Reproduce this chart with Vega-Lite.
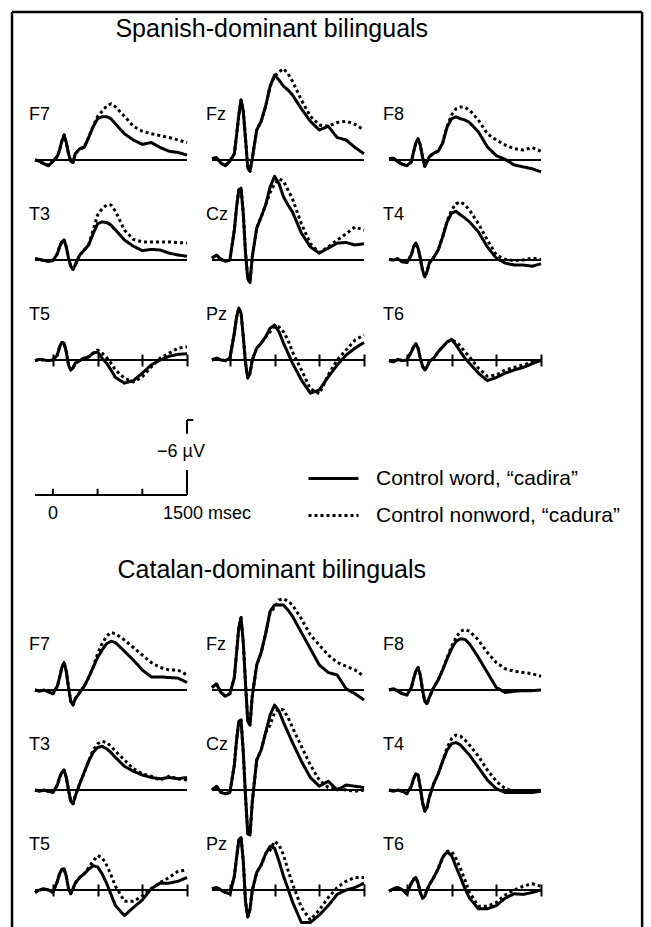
{
"$schema":"https://vega.github.io/schema/vega-lite/v6.json",
"padding":{"left":10,"top":10,"right":10,"bottom":1},
"background":"white",
"bounds":"flush",
"spacing":0,
"config":{"view":{"stroke":null},"font":"Liberation Sans","text":{"font":"Liberation Sans","color":"black"},"header":{"title":null,"labelExpr":"''","labelFontSize":1,"labelPadding":0,"labelColor":"transparent"},"headerFacet":{"title":null,"labelExpr":"''","labelFontSize":1,"labelPadding":0,"labelColor":"transparent"}},
"resolve":{"scale":{"x":"independent","y":"independent","strokeDash":"shared"},"legend":{"strokeDash":"shared"}},
"datasets":{
"S":[
{"e":"F7","t":-200,"w":0,"n":0},{"e":"F7","t":-150,"w":0.1,"n":0.1},{"e":"F7","t":-100,"w":0.3,"n":0.3},{"e":"F7","t":-50,"w":0.45,"n":0.45},{"e":"F7","t":0,"w":0.1,"n":0.1},{"e":"F7","t":50,"w":-0.3,"n":-0.3},{"e":"F7","t":75,"w":-0.8,"n":-0.8},{"e":"F7","t":100,"w":-1.5,"n":-1.5},{"e":"F7","t":125,"w":-2.0,"n":-2.0},{"e":"F7","t":150,"w":-1.4,"n":-1.4},{"e":"F7","t":175,"w":-0.5,"n":-0.5},{"e":"F7","t":200,"w":0.1,"n":0.1},{"e":"F7","t":225,"w":0.2,"n":0.2},{"e":"F7","t":250,"w":-0.5,"n":-0.5},{"e":"F7","t":300,"w":-0.9,"n":-0.9},{"e":"F7","t":350,"w":-1.0,"n":-1.0},{"e":"F7","t":400,"w":-1.8,"n":-1.8},{"e":"F7","t":450,"w":-2.65,"n":-2.7},{"e":"F7","t":500,"w":-3.3,"n":-3.5},{"e":"F7","t":550,"w":-3.47,"n":-3.9},{"e":"F7","t":600,"w":-3.47,"n":-4.3},{"e":"F7","t":650,"w":-3.3,"n":-4.5},{"e":"F7","t":700,"w":-2.9,"n":-4.25},{"e":"F7","t":800,"w":-2.1,"n":-3.5},{"e":"F7","t":900,"w":-1.6,"n":-2.7},{"e":"F7","t":1000,"w":-1.25,"n":-2.3},{"e":"F7","t":1100,"w":-1.4,"n":-2.1},{"e":"F7","t":1200,"w":-1.0,"n":-1.95},{"e":"F7","t":1300,"w":-0.7,"n":-1.8},{"e":"F7","t":1400,"w":-0.6,"n":-1.6},{"e":"F7","t":1500,"w":-0.4,"n":-1.4},
{"e":"Fz","t":-200,"w":-0.1,"n":-0.1},{"e":"Fz","t":-150,"w":-0.2,"n":-0.2},{"e":"Fz","t":-100,"w":0.25,"n":0.25},{"e":"Fz","t":-50,"w":0.45,"n":0.45},{"e":"Fz","t":0,"w":0.1,"n":0.1},{"e":"Fz","t":50,"w":-0.5,"n":-0.5},{"e":"Fz","t":75,"w":-2.0,"n":-2.0},{"e":"Fz","t":100,"w":-3.6,"n":-3.6},{"e":"Fz","t":125,"w":-4.8,"n":-4.8},{"e":"Fz","t":150,"w":-3.9,"n":-3.9},{"e":"Fz","t":175,"w":-1.7,"n":-1.7},{"e":"Fz","t":200,"w":0.65,"n":0.65},{"e":"Fz","t":225,"w":0.9,"n":0.9},{"e":"Fz","t":250,"w":-0.1,"n":-0.1},{"e":"Fz","t":300,"w":-2.4,"n":-2.4},{"e":"Fz","t":350,"w":-3.1,"n":-3.1},{"e":"Fz","t":400,"w":-4.3,"n":-4.3},{"e":"Fz","t":450,"w":-5.9,"n":-5.9},{"e":"Fz","t":500,"w":-6.8,"n":-6.7},{"e":"Fz","t":550,"w":-6.4,"n":-7.05},{"e":"Fz","t":600,"w":-5.9,"n":-7.3},{"e":"Fz","t":650,"w":-5.6,"n":-6.9},{"e":"Fz","t":700,"w":-5.2,"n":-6.3},{"e":"Fz","t":800,"w":-4.1,"n":-4.8},{"e":"Fz","t":900,"w":-3.1,"n":-3.5},{"e":"Fz","t":1000,"w":-2.4,"n":-2.8},{"e":"Fz","t":1100,"w":-2.7,"n":-2.7},{"e":"Fz","t":1200,"w":-1.8,"n":-3.0},{"e":"Fz","t":1300,"w":-1.6,"n":-3.1},{"e":"Fz","t":1400,"w":-1.0,"n":-2.85},{"e":"Fz","t":1500,"w":-0.5,"n":-2.4},
{"e":"F8","t":-200,"w":-0.1,"n":-0.1},{"e":"F8","t":-150,"w":-0.15,"n":-0.15},{"e":"F8","t":-100,"w":0.15,"n":0.15},{"e":"F8","t":-50,"w":0.35,"n":0.35},{"e":"F8","t":0,"w":0.45,"n":0.45},{"e":"F8","t":50,"w":0.15,"n":0.15},{"e":"F8","t":75,"w":-0.65,"n":-0.65},{"e":"F8","t":100,"w":-1.35,"n":-1.35},{"e":"F8","t":125,"w":-1.7,"n":-1.7},{"e":"F8","t":150,"w":-1.2,"n":-1.2},{"e":"F8","t":175,"w":-0.25,"n":-0.25},{"e":"F8","t":200,"w":0.5,"n":0.5},{"e":"F8","t":225,"w":0.15,"n":0.15},{"e":"F8","t":250,"w":-0.25,"n":-0.25},{"e":"F8","t":300,"w":-0.55,"n":-0.55},{"e":"F8","t":350,"w":-0.7,"n":-0.7},{"e":"F8","t":400,"w":-1.35,"n":-1.35},{"e":"F8","t":450,"w":-2.65,"n":-2.7},{"e":"F8","t":500,"w":-3.3,"n":-3.6},{"e":"F8","t":550,"w":-3.45,"n":-4.1},{"e":"F8","t":600,"w":-3.3,"n":-4.25},{"e":"F8","t":650,"w":-3.2,"n":-4.2},{"e":"F8","t":700,"w":-3.0,"n":-4.0},{"e":"F8","t":800,"w":-2.25,"n":-3.2},{"e":"F8","t":900,"w":-1.05,"n":-2.1},{"e":"F8","t":1000,"w":-0.35,"n":-1.6},{"e":"F8","t":1100,"w":-0.05,"n":-1.2},{"e":"F8","t":1200,"w":0.4,"n":-0.9},{"e":"F8","t":1300,"w":0.55,"n":-0.8},{"e":"F8","t":1400,"w":0.7,"n":-1.0},{"e":"F8","t":1500,"w":0.95,"n":-0.7},
{"e":"T3","t":-200,"w":-0.1,"n":-0.1},{"e":"T3","t":-150,"w":-0.05,"n":-0.05},{"e":"T3","t":-100,"w":0.05,"n":0.05},{"e":"T3","t":-50,"w":0.1,"n":0.1},{"e":"T3","t":0,"w":0.05,"n":0.05},{"e":"T3","t":50,"w":-0.5,"n":-0.5},{"e":"T3","t":75,"w":-1.05,"n":-1.05},{"e":"T3","t":100,"w":-1.45,"n":-1.45},{"e":"T3","t":125,"w":-1.6,"n":-1.6},{"e":"T3","t":150,"w":-1.05,"n":-1.05},{"e":"T3","t":175,"w":-0.15,"n":-0.15},{"e":"T3","t":200,"w":0.5,"n":0.5},{"e":"T3","t":225,"w":0.75,"n":0.75},{"e":"T3","t":250,"w":0.4,"n":0.4},{"e":"T3","t":300,"w":-0.4,"n":-0.4},{"e":"T3","t":350,"w":-0.8,"n":-0.8},{"e":"T3","t":400,"w":-1.2,"n":-1.2},{"e":"T3","t":450,"w":-2.1,"n":-2.4},{"e":"T3","t":500,"w":-2.9,"n":-3.6},{"e":"T3","t":550,"w":-3.05,"n":-4.1},{"e":"T3","t":600,"w":-3.0,"n":-4.4},{"e":"T3","t":650,"w":-2.8,"n":-4.4},{"e":"T3","t":700,"w":-2.4,"n":-3.9},{"e":"T3","t":800,"w":-1.6,"n":-2.4},{"e":"T3","t":900,"w":-1.1,"n":-1.65},{"e":"T3","t":1000,"w":-0.75,"n":-1.45},{"e":"T3","t":1100,"w":-0.85,"n":-1.45},{"e":"T3","t":1200,"w":-0.8,"n":-1.45},{"e":"T3","t":1300,"w":-0.55,"n":-1.45},{"e":"T3","t":1400,"w":-0.4,"n":-1.4},{"e":"T3","t":1500,"w":-0.3,"n":-1.35},
{"e":"Cz","t":-200,"w":-0.15,"n":-0.15},{"e":"Cz","t":-150,"w":-0.4,"n":-0.4},{"e":"Cz","t":-100,"w":-0.05,"n":-0.05},{"e":"Cz","t":-50,"w":0.1,"n":0.1},{"e":"Cz","t":0,"w":0,"n":0},{"e":"Cz","t":50,"w":-2.4,"n":-2.4},{"e":"Cz","t":75,"w":-4.25,"n":-4.25},{"e":"Cz","t":100,"w":-5.6,"n":-5.6},{"e":"Cz","t":125,"w":-5.75,"n":-5.75},{"e":"Cz","t":150,"w":-3.7,"n":-3.7},{"e":"Cz","t":175,"w":-0.55,"n":-0.55},{"e":"Cz","t":200,"w":1.5,"n":1.5},{"e":"Cz","t":225,"w":1.8,"n":1.8},{"e":"Cz","t":250,"w":-0.25,"n":-0.25},{"e":"Cz","t":300,"w":-2.55,"n":-2.55},{"e":"Cz","t":350,"w":-3.45,"n":-3.45},{"e":"Cz","t":400,"w":-4.4,"n":-4.4},{"e":"Cz","t":450,"w":-5.85,"n":-5.4},{"e":"Cz","t":500,"w":-6.7,"n":-6.1},{"e":"Cz","t":550,"w":-6.1,"n":-6.5},{"e":"Cz","t":600,"w":-5.05,"n":-6.3},{"e":"Cz","t":650,"w":-4.4,"n":-5.6},{"e":"Cz","t":700,"w":-3.85,"n":-4.9},{"e":"Cz","t":800,"w":-2.15,"n":-2.9},{"e":"Cz","t":900,"w":-1.05,"n":-1.3},{"e":"Cz","t":1000,"w":-0.55,"n":-0.6},{"e":"Cz","t":1100,"w":-0.95,"n":-1.05},{"e":"Cz","t":1200,"w":-1.35,"n":-1.6},{"e":"Cz","t":1300,"w":-1.4,"n":-2.1},{"e":"Cz","t":1400,"w":-1.2,"n":-2.65},{"e":"Cz","t":1500,"w":-1.3,"n":-2.4},
{"e":"T4","t":-200,"w":-0.05,"n":-0.05},{"e":"T4","t":-150,"w":0,"n":0},{"e":"T4","t":-100,"w":-0.1,"n":-0.1},{"e":"T4","t":-50,"w":0.15,"n":0.15},{"e":"T4","t":0,"w":0.2,"n":0.2},{"e":"T4","t":50,"w":-0.4,"n":-0.4},{"e":"T4","t":75,"w":-1.05,"n":-1.05},{"e":"T4","t":100,"w":-1.35,"n":-1.35},{"e":"T4","t":125,"w":-0.95,"n":-0.95},{"e":"T4","t":150,"w":-0.15,"n":-0.15},{"e":"T4","t":175,"w":0.8,"n":0.8},{"e":"T4","t":200,"w":1.35,"n":1.35},{"e":"T4","t":225,"w":0.95,"n":0.95},{"e":"T4","t":250,"w":0.25,"n":0.25},{"e":"T4","t":300,"w":-0.2,"n":-0.2},{"e":"T4","t":350,"w":-0.8,"n":-0.8},{"e":"T4","t":400,"w":-1.85,"n":-1.85},{"e":"T4","t":450,"w":-3.05,"n":-3.1},{"e":"T4","t":500,"w":-3.75,"n":-4.0},{"e":"T4","t":550,"w":-3.9,"n":-4.5},{"e":"T4","t":600,"w":-3.6,"n":-4.65},{"e":"T4","t":650,"w":-3.35,"n":-4.4},{"e":"T4","t":700,"w":-3.05,"n":-4.0},{"e":"T4","t":800,"w":-2.25,"n":-2.9},{"e":"T4","t":900,"w":-1.05,"n":-1.6},{"e":"T4","t":1000,"w":-0.15,"n":-0.4},{"e":"T4","t":1100,"w":0.25,"n":-0.05},{"e":"T4","t":1200,"w":0.4,"n":0.05},{"e":"T4","t":1300,"w":0.4,"n":0},{"e":"T4","t":1400,"w":0.5,"n":-0.15},{"e":"T4","t":1500,"w":0.3,"n":-0.05},
{"e":"T5","t":-200,"w":0.05,"n":0.05},{"e":"T5","t":-150,"w":-0.05,"n":-0.05},{"e":"T5","t":-100,"w":0,"n":0},{"e":"T5","t":-50,"w":0.05,"n":0.05},{"e":"T5","t":0,"w":0,"n":0},{"e":"T5","t":50,"w":-0.4,"n":-0.4},{"e":"T5","t":75,"w":-1.05,"n":-1.05},{"e":"T5","t":100,"w":-1.4,"n":-1.4},{"e":"T5","t":125,"w":-1.35,"n":-1.35},{"e":"T5","t":150,"w":-0.65,"n":-0.65},{"e":"T5","t":175,"w":0.4,"n":0.4},{"e":"T5","t":200,"w":0.8,"n":0.8},{"e":"T5","t":225,"w":0.65,"n":0.65},{"e":"T5","t":250,"w":0.25,"n":0.25},{"e":"T5","t":300,"w":0.05,"n":0.05},{"e":"T5","t":350,"w":-0.15,"n":-0.15},{"e":"T5","t":400,"w":-0.25,"n":-0.25},{"e":"T5","t":450,"w":-0.55,"n":-0.55},{"e":"T5","t":500,"w":-0.65,"n":-0.8},{"e":"T5","t":550,"w":-0.15,"n":-0.55},{"e":"T5","t":600,"w":0.25,"n":-0.2},{"e":"T5","t":650,"w":0.8,"n":0.25},{"e":"T5","t":700,"w":1.4,"n":0.8},{"e":"T5","t":800,"w":1.85,"n":1.45},{"e":"T5","t":900,"w":1.65,"n":1.75},{"e":"T5","t":1000,"w":1.05,"n":1.35},{"e":"T5","t":1100,"w":0.4,"n":0.55},{"e":"T5","t":1200,"w":0,"n":-0.15},{"e":"T5","t":1300,"w":-0.3,"n":-0.55},{"e":"T5","t":1400,"w":-0.45,"n":-0.95},{"e":"T5","t":1500,"w":-0.5,"n":-1.05},
{"e":"Pz","t":-200,"w":0,"n":0},{"e":"Pz","t":-150,"w":-0.15,"n":-0.15},{"e":"Pz","t":-100,"w":0,"n":0},{"e":"Pz","t":-50,"w":0.05,"n":0.05},{"e":"Pz","t":0,"w":-0.15,"n":-0.15},{"e":"Pz","t":50,"w":-2.15,"n":-2.15},{"e":"Pz","t":75,"w":-3.45,"n":-3.45},{"e":"Pz","t":100,"w":-4.15,"n":-4.15},{"e":"Pz","t":125,"w":-3.75,"n":-3.75},{"e":"Pz","t":150,"w":-1.85,"n":-1.85},{"e":"Pz","t":175,"w":0.25,"n":0.25},{"e":"Pz","t":200,"w":1.45,"n":1.45},{"e":"Pz","t":225,"w":1.05,"n":1.05},{"e":"Pz","t":250,"w":0,"n":0},{"e":"Pz","t":300,"w":-0.95,"n":-0.95},{"e":"Pz","t":350,"w":-1.35,"n":-1.35},{"e":"Pz","t":400,"w":-1.85,"n":-1.85},{"e":"Pz","t":450,"w":-2.55,"n":-2.25},{"e":"Pz","t":500,"w":-2.8,"n":-2.7},{"e":"Pz","t":550,"w":-2.25,"n":-2.65},{"e":"Pz","t":600,"w":-1.35,"n":-2.25},{"e":"Pz","t":650,"w":-0.55,"n":-1.6},{"e":"Pz","t":700,"w":0.25,"n":-0.65},{"e":"Pz","t":800,"w":1.6,"n":0.8},{"e":"Pz","t":900,"w":2.65,"n":2.3},{"e":"Pz","t":1000,"w":2.4,"n":2.7},{"e":"Pz","t":1100,"w":1.35,"n":1.2},{"e":"Pz","t":1200,"w":0.4,"n":0},{"e":"Pz","t":1300,"w":-0.4,"n":-0.8},{"e":"Pz","t":1400,"w":-0.95,"n":-1.6},{"e":"Pz","t":1500,"w":-1.4,"n":-2.0},
{"e":"T6","t":-200,"w":0.05,"n":0.05},{"e":"T6","t":-150,"w":0.15,"n":0.15},{"e":"T6","t":-100,"w":-0.05,"n":-0.05},{"e":"T6","t":-50,"w":0.05,"n":0.05},{"e":"T6","t":0,"w":0,"n":0},{"e":"T6","t":50,"w":-0.65,"n":-0.65},{"e":"T6","t":75,"w":-1.05,"n":-1.05},{"e":"T6","t":100,"w":-1.3,"n":-1.3},{"e":"T6","t":125,"w":-0.95,"n":-0.95},{"e":"T6","t":150,"w":-0.15,"n":-0.15},{"e":"T6","t":175,"w":0.5,"n":0.5},{"e":"T6","t":200,"w":0.8,"n":0.8},{"e":"T6","t":225,"w":0.55,"n":0.55},{"e":"T6","t":250,"w":0.15,"n":0.15},{"e":"T6","t":300,"w":-0.15,"n":-0.15},{"e":"T6","t":350,"w":-0.65,"n":-0.65},{"e":"T6","t":400,"w":-1.05,"n":-1.05},{"e":"T6","t":450,"w":-1.45,"n":-1.45},{"e":"T6","t":500,"w":-1.65,"n":-1.6},{"e":"T6","t":550,"w":-1.2,"n":-1.45},{"e":"T6","t":600,"w":-0.65,"n":-1.1},{"e":"T6","t":650,"w":-0.15,"n":-0.65},{"e":"T6","t":700,"w":0.25,"n":-0.25},{"e":"T6","t":800,"w":1.05,"n":0.65},{"e":"T6","t":900,"w":1.65,"n":1.3},{"e":"T6","t":1000,"w":1.4,"n":1.2},{"e":"T6","t":1100,"w":1.05,"n":0.8},{"e":"T6","t":1200,"w":0.8,"n":0.6},{"e":"T6","t":1300,"w":0.6,"n":0.4},{"e":"T6","t":1400,"w":0.3,"n":0.15},{"e":"T6","t":1500,"w":0,"n":0.05}
],
"C":[
{"e":"F7","t":-200,"w":0,"n":0},{"e":"F7","t":-150,"w":0.1,"n":0.1},{"e":"F7","t":-100,"w":0,"n":0},{"e":"F7","t":-50,"w":0.15,"n":0.15},{"e":"F7","t":0,"w":0.3,"n":0.3},{"e":"F7","t":50,"w":-0.3,"n":-0.3},{"e":"F7","t":75,"w":-1.0,"n":-1.0},{"e":"F7","t":100,"w":-1.8,"n":-1.8},{"e":"F7","t":125,"w":-2.2,"n":-2.2},{"e":"F7","t":150,"w":-1.5,"n":-1.5},{"e":"F7","t":175,"w":-0.2,"n":-0.2},{"e":"F7","t":200,"w":0.9,"n":0.9},{"e":"F7","t":225,"w":1.2,"n":1.2},{"e":"F7","t":250,"w":0.7,"n":0.7},{"e":"F7","t":300,"w":0.2,"n":0.2},{"e":"F7","t":350,"w":-0.3,"n":-0.3},{"e":"F7","t":400,"w":-1.0,"n":-1.0},{"e":"F7","t":450,"w":-1.8,"n":-1.8},{"e":"F7","t":500,"w":-2.6,"n":-2.9},{"e":"F7","t":550,"w":-3.2,"n":-3.7},{"e":"F7","t":600,"w":-3.7,"n":-4.3},{"e":"F7","t":650,"w":-3.9,"n":-4.6},{"e":"F7","t":700,"w":-3.8,"n":-4.5},{"e":"F7","t":800,"w":-3.1,"n":-4.0},{"e":"F7","t":900,"w":-2.4,"n":-3.4},{"e":"F7","t":1000,"w":-1.6,"n":-2.8},{"e":"F7","t":1100,"w":-1.05,"n":-2.2},{"e":"F7","t":1200,"w":-1.05,"n":-1.8},{"e":"F7","t":1300,"w":-1.0,"n":-1.6},{"e":"F7","t":1400,"w":-0.95,"n":-1.6},{"e":"F7","t":1500,"w":-0.6,"n":-1.2},
{"e":"Fz","t":-200,"w":-0.2,"n":-0.2},{"e":"Fz","t":-150,"w":-0.5,"n":-0.5},{"e":"Fz","t":-100,"w":0.2,"n":0.2},{"e":"Fz","t":-50,"w":0.5,"n":0.5},{"e":"Fz","t":0,"w":0.3,"n":0.3},{"e":"Fz","t":50,"w":-1.0,"n":-1.0},{"e":"Fz","t":75,"w":-3.0,"n":-3.0},{"e":"Fz","t":100,"w":-5.0,"n":-5.0},{"e":"Fz","t":125,"w":-5.8,"n":-5.8},{"e":"Fz","t":150,"w":-3.8,"n":-3.8},{"e":"Fz","t":175,"w":-0.5,"n":-0.5},{"e":"Fz","t":200,"w":2.5,"n":2.5},{"e":"Fz","t":225,"w":2.8,"n":2.8},{"e":"Fz","t":250,"w":0.5,"n":0.5},{"e":"Fz","t":300,"w":-2.0,"n":-2.0},{"e":"Fz","t":350,"w":-3.0,"n":-3.0},{"e":"Fz","t":400,"w":-4.5,"n":-4.5},{"e":"Fz","t":450,"w":-6.3,"n":-6.2},{"e":"Fz","t":500,"w":-6.8,"n":-6.6},{"e":"Fz","t":550,"w":-6.8,"n":-7.2},{"e":"Fz","t":600,"w":-6.8,"n":-7.3},{"e":"Fz","t":650,"w":-6.4,"n":-7.1},{"e":"Fz","t":700,"w":-5.9,"n":-6.8},{"e":"Fz","t":800,"w":-4.6,"n":-5.7},{"e":"Fz","t":900,"w":-3.3,"n":-4.4},{"e":"Fz","t":1000,"w":-2.0,"n":-3.6},{"e":"Fz","t":1100,"w":-1.4,"n":-2.8},{"e":"Fz","t":1200,"w":-1.2,"n":-2.2},{"e":"Fz","t":1300,"w":-0.1,"n":-1.9},{"e":"Fz","t":1400,"w":0.3,"n":-1.6},{"e":"Fz","t":1500,"w":0.8,"n":-1.1},
{"e":"F8","t":-200,"w":0,"n":0},{"e":"F8","t":-150,"w":-0.1,"n":-0.1},{"e":"F8","t":-100,"w":0.1,"n":0.1},{"e":"F8","t":-50,"w":0.3,"n":0.3},{"e":"F8","t":0,"w":0.4,"n":0.4},{"e":"F8","t":50,"w":-0.2,"n":-0.2},{"e":"F8","t":75,"w":-0.9,"n":-0.9},{"e":"F8","t":100,"w":-1.5,"n":-1.5},{"e":"F8","t":125,"w":-1.8,"n":-1.8},{"e":"F8","t":150,"w":-1.2,"n":-1.2},{"e":"F8","t":175,"w":0,"n":0},{"e":"F8","t":200,"w":0.9,"n":0.9},{"e":"F8","t":225,"w":1.1,"n":1.1},{"e":"F8","t":250,"w":0.6,"n":0.6},{"e":"F8","t":300,"w":-0.2,"n":-0.2},{"e":"F8","t":350,"w":-0.8,"n":-0.8},{"e":"F8","t":400,"w":-1.6,"n":-1.6},{"e":"F8","t":450,"w":-2.5,"n":-2.6},{"e":"F8","t":500,"w":-3.3,"n":-3.5},{"e":"F8","t":550,"w":-3.9,"n":-4.2},{"e":"F8","t":600,"w":-4.1,"n":-4.7},{"e":"F8","t":650,"w":-4.05,"n":-4.85},{"e":"F8","t":700,"w":-3.7,"n":-4.7},{"e":"F8","t":800,"w":-2.6,"n":-4.0},{"e":"F8","t":900,"w":-1.4,"n":-3.0},{"e":"F8","t":1000,"w":-0.2,"n":-2.2},{"e":"F8","t":1100,"w":0.2,"n":-1.7},{"e":"F8","t":1200,"w":0.1,"n":-1.5},{"e":"F8","t":1300,"w":0.05,"n":-1.4},{"e":"F8","t":1400,"w":0.05,"n":-1.3},{"e":"F8","t":1500,"w":0,"n":-1.1},
{"e":"T3","t":-200,"w":0,"n":0},{"e":"T3","t":-150,"w":0.1,"n":0.1},{"e":"T3","t":-100,"w":0,"n":0},{"e":"T3","t":-50,"w":0.1,"n":0.1},{"e":"T3","t":0,"w":0.2,"n":0.2},{"e":"T3","t":50,"w":-0.4,"n":-0.4},{"e":"T3","t":75,"w":-1.0,"n":-1.0},{"e":"T3","t":100,"w":-1.4,"n":-1.4},{"e":"T3","t":125,"w":-1.6,"n":-1.6},{"e":"T3","t":150,"w":-1.0,"n":-1.0},{"e":"T3","t":175,"w":0,"n":0},{"e":"T3","t":200,"w":0.9,"n":0.9},{"e":"T3","t":225,"w":1.1,"n":1.1},{"e":"T3","t":250,"w":0.5,"n":0.5},{"e":"T3","t":300,"w":-0.5,"n":-0.5},{"e":"T3","t":350,"w":-1.4,"n":-1.4},{"e":"T3","t":400,"w":-2.3,"n":-2.3},{"e":"T3","t":450,"w":-3.0,"n":-3.2},{"e":"T3","t":500,"w":-3.4,"n":-3.7},{"e":"T3","t":550,"w":-3.5,"n":-3.9},{"e":"T3","t":600,"w":-3.3,"n":-3.8},{"e":"T3","t":650,"w":-3.0,"n":-3.5},{"e":"T3","t":700,"w":-2.6,"n":-3.1},{"e":"T3","t":800,"w":-1.9,"n":-2.4},{"e":"T3","t":900,"w":-1.5,"n":-1.7},{"e":"T3","t":1000,"w":-1.2,"n":-1.3},{"e":"T3","t":1100,"w":-1.0,"n":-1.1},{"e":"T3","t":1200,"w":-0.9,"n":-0.8},{"e":"T3","t":1300,"w":-1.0,"n":-1.1},{"e":"T3","t":1400,"w":-0.9,"n":-0.9},{"e":"T3","t":1500,"w":-1.0,"n":-0.8},
{"e":"Cz","t":-200,"w":0,"n":0},{"e":"Cz","t":-150,"w":-0.3,"n":-0.3},{"e":"Cz","t":-100,"w":0.2,"n":0.2},{"e":"Cz","t":-50,"w":0.3,"n":0.3},{"e":"Cz","t":0,"w":0.2,"n":0.2},{"e":"Cz","t":50,"w":-2.0,"n":-2.0},{"e":"Cz","t":75,"w":-4.0,"n":-4.0},{"e":"Cz","t":100,"w":-5.5,"n":-5.5},{"e":"Cz","t":125,"w":-5.6,"n":-5.6},{"e":"Cz","t":150,"w":-3.0,"n":-3.0},{"e":"Cz","t":175,"w":0.5,"n":0.5},{"e":"Cz","t":200,"w":3.5,"n":3.5},{"e":"Cz","t":225,"w":3.6,"n":3.6},{"e":"Cz","t":250,"w":1.0,"n":1.0},{"e":"Cz","t":300,"w":-2.4,"n":-2.4},{"e":"Cz","t":350,"w":-3.2,"n":-3.2},{"e":"Cz","t":400,"w":-4.6,"n":-4.6},{"e":"Cz","t":450,"w":-6.0,"n":-5.2},{"e":"Cz","t":500,"w":-6.8,"n":-6.2},{"e":"Cz","t":550,"w":-6.3,"n":-6.5},{"e":"Cz","t":600,"w":-5.4,"n":-6.4},{"e":"Cz","t":650,"w":-4.6,"n":-5.8},{"e":"Cz","t":700,"w":-3.8,"n":-5.0},{"e":"Cz","t":800,"w":-2.3,"n":-3.5},{"e":"Cz","t":900,"w":-1.0,"n":-2.0},{"e":"Cz","t":1000,"w":-0.3,"n":-0.8},{"e":"Cz","t":1100,"w":-0.7,"n":-0.2},{"e":"Cz","t":1200,"w":0,"n":-0.1},{"e":"Cz","t":1300,"w":-0.4,"n":0},{"e":"Cz","t":1400,"w":-0.3,"n":0.1},{"e":"Cz","t":1500,"w":-0.2,"n":0},
{"e":"T4","t":-200,"w":0,"n":0},{"e":"T4","t":-150,"w":0.1,"n":0.1},{"e":"T4","t":-100,"w":0,"n":0},{"e":"T4","t":-50,"w":0.1,"n":0.1},{"e":"T4","t":0,"w":0.3,"n":0.3},{"e":"T4","t":50,"w":-0.3,"n":-0.3},{"e":"T4","t":75,"w":-0.9,"n":-0.9},{"e":"T4","t":100,"w":-1.3,"n":-1.3},{"e":"T4","t":125,"w":-1.2,"n":-1.2},{"e":"T4","t":150,"w":-0.2,"n":-0.2},{"e":"T4","t":175,"w":1.0,"n":1.0},{"e":"T4","t":200,"w":1.7,"n":1.7},{"e":"T4","t":225,"w":1.4,"n":1.4},{"e":"T4","t":250,"w":0.6,"n":0.6},{"e":"T4","t":300,"w":-0.5,"n":-0.5},{"e":"T4","t":350,"w":-1.3,"n":-1.3},{"e":"T4","t":400,"w":-2.3,"n":-2.3},{"e":"T4","t":450,"w":-3.2,"n":-3.4},{"e":"T4","t":500,"w":-3.7,"n":-4.1},{"e":"T4","t":550,"w":-3.8,"n":-4.4},{"e":"T4","t":600,"w":-3.6,"n":-4.3},{"e":"T4","t":650,"w":-3.2,"n":-4.0},{"e":"T4","t":700,"w":-2.8,"n":-3.6},{"e":"T4","t":800,"w":-1.8,"n":-2.7},{"e":"T4","t":900,"w":-0.8,"n":-1.6},{"e":"T4","t":1000,"w":-0.1,"n":-0.7},{"e":"T4","t":1100,"w":0.2,"n":-0.1},{"e":"T4","t":1200,"w":0.2,"n":0.1},{"e":"T4","t":1300,"w":0.2,"n":0.1},{"e":"T4","t":1400,"w":0.2,"n":0.1},{"e":"T4","t":1500,"w":0.1,"n":0},
{"e":"T5","t":-200,"w":0.2,"n":0.2},{"e":"T5","t":-150,"w":0,"n":0},{"e":"T5","t":-100,"w":-0.1,"n":-0.1},{"e":"T5","t":-50,"w":0,"n":0},{"e":"T5","t":0,"w":0.2,"n":0.2},{"e":"T5","t":50,"w":-0.7,"n":-0.7},{"e":"T5","t":75,"w":-1.3,"n":-1.3},{"e":"T5","t":100,"w":-1.65,"n":-1.65},{"e":"T5","t":125,"w":-1.7,"n":-1.7},{"e":"T5","t":150,"w":-1.1,"n":-1.1},{"e":"T5","t":175,"w":-0.1,"n":-0.1},{"e":"T5","t":200,"w":0.3,"n":0.3},{"e":"T5","t":225,"w":-0.1,"n":-0.1},{"e":"T5","t":250,"w":-0.55,"n":-0.55},{"e":"T5","t":300,"w":-1.0,"n":-1.0},{"e":"T5","t":350,"w":-1.3,"n":-1.3},{"e":"T5","t":400,"w":-1.65,"n":-1.8},{"e":"T5","t":450,"w":-1.95,"n":-2.3},{"e":"T5","t":500,"w":-1.85,"n":-2.75},{"e":"T5","t":550,"w":-1.3,"n":-2.6},{"e":"T5","t":600,"w":-0.55,"n":-2.0},{"e":"T5","t":650,"w":0.35,"n":-1.2},{"e":"T5","t":700,"w":1.25,"n":-0.3},{"e":"T5","t":800,"w":2.05,"n":0.9},{"e":"T5","t":900,"w":1.4,"n":0.9},{"e":"T5","t":1000,"w":0.8,"n":0.5},{"e":"T5","t":1100,"w":-0.1,"n":-0.1},{"e":"T5","t":1200,"w":-0.55,"n":-0.6},{"e":"T5","t":1300,"w":-0.55,"n":-1.0},{"e":"T5","t":1400,"w":-0.7,"n":-1.5},{"e":"T5","t":1500,"w":-1.0,"n":-1.6},
{"e":"Pz","t":-200,"w":-0.1,"n":-0.1},{"e":"Pz","t":-150,"w":-0.2,"n":-0.2},{"e":"Pz","t":-100,"w":0,"n":0},{"e":"Pz","t":-50,"w":0.2,"n":0.2},{"e":"Pz","t":0,"w":0.3,"n":0.3},{"e":"Pz","t":50,"w":-1.1,"n":-1.1},{"e":"Pz","t":75,"w":-2.6,"n":-2.6},{"e":"Pz","t":100,"w":-4.0,"n":-4.0},{"e":"Pz","t":125,"w":-4.2,"n":-4.2},{"e":"Pz","t":150,"w":-2.3,"n":-2.3},{"e":"Pz","t":175,"w":0.95,"n":0.95},{"e":"Pz","t":200,"w":2.15,"n":2.15},{"e":"Pz","t":225,"w":1.55,"n":1.55},{"e":"Pz","t":250,"w":0.05,"n":0.05},{"e":"Pz","t":300,"w":-1.4,"n":-1.4},{"e":"Pz","t":350,"w":-2.0,"n":-2.0},{"e":"Pz","t":400,"w":-2.9,"n":-2.9},{"e":"Pz","t":450,"w":-3.5,"n":-3.2},{"e":"Pz","t":500,"w":-3.35,"n":-3.9},{"e":"Pz","t":550,"w":-2.3,"n":-3.6},{"e":"Pz","t":600,"w":-1.1,"n":-2.8},{"e":"Pz","t":650,"w":-0.1,"n":-1.6},{"e":"Pz","t":700,"w":0.95,"n":-0.5},{"e":"Pz","t":800,"w":2.6,"n":1.4},{"e":"Pz","t":900,"w":2.6,"n":2.4},{"e":"Pz","t":1000,"w":2.0,"n":1.6},{"e":"Pz","t":1100,"w":1.25,"n":0.6},{"e":"Pz","t":1200,"w":0.35,"n":-0.2},{"e":"Pz","t":1300,"w":0,"n":-0.7},{"e":"Pz","t":1400,"w":-0.2,"n":-1.0},{"e":"Pz","t":1500,"w":-0.55,"n":-1.0},
{"e":"T6","t":-200,"w":0.1,"n":0.1},{"e":"T6","t":-150,"w":-0.1,"n":-0.1},{"e":"T6","t":-100,"w":-0.2,"n":-0.2},{"e":"T6","t":-50,"w":0,"n":0},{"e":"T6","t":0,"w":0.3,"n":0.3},{"e":"T6","t":50,"w":-0.55,"n":-0.55},{"e":"T6","t":75,"w":-0.85,"n":-0.85},{"e":"T6","t":100,"w":-1.0,"n":-1.0},{"e":"T6","t":125,"w":-0.55,"n":-0.55},{"e":"T6","t":150,"w":0.2,"n":0.2},{"e":"T6","t":175,"w":0.65,"n":0.65},{"e":"T6","t":200,"w":0.5,"n":0.5},{"e":"T6","t":225,"w":0,"n":0},{"e":"T6","t":250,"w":-0.4,"n":-0.4},{"e":"T6","t":300,"w":-1.0,"n":-1.0},{"e":"T6","t":350,"w":-1.7,"n":-1.7},{"e":"T6","t":400,"w":-2.6,"n":-2.6},{"e":"T6","t":450,"w":-3.05,"n":-3.1},{"e":"T6","t":500,"w":-2.75,"n":-3.1},{"e":"T6","t":550,"w":-1.85,"n":-2.5},{"e":"T6","t":600,"w":-1.0,"n":-1.7},{"e":"T6","t":650,"w":-0.1,"n":-0.8},{"e":"T6","t":700,"w":0.65,"n":0.2},{"e":"T6","t":800,"w":1.5,"n":1.3},{"e":"T6","t":900,"w":1.5,"n":1.3},{"e":"T6","t":1000,"w":1.25,"n":1.0},{"e":"T6","t":1100,"w":0.65,"n":0.4},{"e":"T6","t":1200,"w":0.3,"n":0},{"e":"T6","t":1300,"w":0.35,"n":-0.3},{"e":"T6","t":1400,"w":0.2,"n":-0.5},{"e":"T6","t":1500,"w":0,"n":-0.3}
]},
"vconcat":[
{
"data":{"name":"S"},
"title":{"text":"Spanish-dominant bilinguals","fontSize":25,"fontWeight":"normal","font":"Liberation Sans","anchor":"middle","dx":-14,"offset":24,"color":"black"},
"facet":{"field":"e","type":"nominal","sort":["F7","Fz","F8","T3","Cz","T4","T5","Pz","T6"],"header":{"title":null,"labelExpr":"''","labelFontSize":1,"labelPadding":0,"labelColor":"transparent"}},
"columns":3,
"spacing":{"row":0,"column":25},
"bounds":"flush",
"spec":{
"width":152,"height":100,
"layer":[
{"transform":[{"filter":"datum.t == -200"}],
"mark":{"type":"rule","color":"black","strokeWidth":2},
"encoding":{"x":{"datum":-200,"type":"quantitative","scale":{"domain":[-200,1500]},"axis":{"values":[0,500,1000,1500],"domain":false,"labels":false,"title":null,"grid":false,"tickSize":12,"tickWidth":2,"tickColor":"black","offset":-21}},"x2":{"datum":1500},"y":{"datum":0,"type":"quantitative","scale":{"domain":[1.2,-6.8]},"axis":null}}},
{"transform":[{"fold":["w","n"],"as":["c","v"]}],
"mark":{"type":"line","color":"black","strokeWidth":3,"strokeJoin":"round"},
"encoding":{"x":{"field":"t","type":"quantitative","scale":{"domain":[-200,1500]},"axis":{"values":[0,500,1000,1500],"domain":false,"labels":false,"title":null,"grid":false,"tickSize":12,"tickWidth":2,"tickColor":"black","offset":-21}},"y":{"field":"v","type":"quantitative","scale":{"domain":[1.2,-6.8]},"axis":null},
"strokeDash":{"field":"c","type":"nominal","scale":{"domain":["w","n"],"range":[[1,0],[3,3]]},"legend":{"title":null,"orient":"none","legendX":272,"legendY":377,"labelExpr":"datum.value == 'w' ? 'Control word, “cadira”' : 'Control nonword, “cadura”'","symbolType":"stroke","symbolSize":2500,"symbolStrokeWidth":3,"symbolStrokeColor":"black","labelFontSize":21,"labelFont":"Liberation Sans","labelColor":"black","labelOffset":16,"rowPadding":-22,"labelLimit":400}}}},
{"transform":[{"filter":"datum.t == -200"}],
"mark":{"type":"text","align":"left","baseline":"middle","fontSize":18,"dx":-6,"font":"Liberation Sans","color":"black"},
"encoding":{"x":{"datum":-200,"type":"quantitative","scale":{"domain":[-200,1500]}},"y":{"datum":-3.6,"type":"quantitative","scale":{"domain":[1.2,-6.8]}},"text":{"field":"e"}}}
]}
},
{
"width":152,"height":530,
"data":{"values":[{}]},
"layer":[
{"mark":{"type":"rule","color":"black","strokeWidth":2},"encoding":{"x":{"datum":-200,"type":"quantitative","scale":{"domain":[-200,1500]},"axis":null},"x2":{"datum":1500},"y":{"datum":0,"type":"quantitative","scale":{"domain":[8.8,-33.6]},"axis":null}}},
{"data":{"values":[{"t":0},{"t":500},{"t":1000}]},"mark":{"type":"rule","color":"black","strokeWidth":2},"encoding":{"x":{"field":"t","type":"quantitative","scale":{"domain":[-200,1500]}},"y":{"datum":0,"type":"quantitative","scale":{"domain":[8.8,-33.6]}},"y2":{"datum":-0.5}}},
{"mark":{"type":"rule","color":"black","strokeWidth":2},"encoding":{"x":{"datum":1500,"type":"quantitative","scale":{"domain":[-200,1500]}},"y":{"datum":0,"type":"quantitative","scale":{"domain":[8.8,-33.6]}},"y2":{"datum":-2.0}}},
{"mark":{"type":"rule","color":"black","strokeWidth":2},"encoding":{"x":{"datum":1500,"type":"quantitative","scale":{"domain":[-200,1500]}},"y":{"datum":-4.9,"type":"quantitative","scale":{"domain":[8.8,-33.6]}},"y2":{"datum":-6.0}}},
{"mark":{"type":"rule","color":"black","strokeWidth":2},"encoding":{"x":{"datum":1500,"type":"quantitative","scale":{"domain":[-200,1500]}},"x2":{"datum":1570},"y":{"datum":-6.0,"type":"quantitative","scale":{"domain":[8.8,-33.6]}}}},
{"mark":{"type":"text","align":"center","baseline":"middle","fontSize":18,"dx":-6,"color":"black"},"encoding":{"x":{"datum":1500,"type":"quantitative","scale":{"domain":[-200,1500]}},"y":{"datum":-3.45,"type":"quantitative","scale":{"domain":[8.8,-33.6]}},"text":{"value":"−6 µV"}}},
{"mark":{"type":"text","align":"center","baseline":"middle","fontSize":18,"color":"black"},"encoding":{"x":{"datum":0,"type":"quantitative","scale":{"domain":[-200,1500]}},"y":{"datum":1.5,"type":"quantitative","scale":{"domain":[8.8,-33.6]}},"text":{"value":"0"}}},
{"mark":{"type":"text","align":"left","baseline":"middle","fontSize":18,"dx":-24,"color":"black"},"encoding":{"x":{"datum":1500,"type":"quantitative","scale":{"domain":[-200,1500]}},"y":{"datum":1.5,"type":"quantitative","scale":{"domain":[8.8,-33.6]}},"text":{"value":"1500 msec"}}},
{"mark":{"type":"rule","color":"black","strokeWidth":2.5},"encoding":{"x":{"datum":-457,"type":"quantitative","scale":{"domain":[-200,1500]}},"y":{"datum":-38.64,"type":"quantitative","scale":{"domain":[8.8,-33.6]}},"y2":{"datum":34.6}}},
{"mark":{"type":"rule","color":"black","strokeWidth":2.5},"encoding":{"x":{"datum":-457,"type":"quantitative","scale":{"domain":[-200,1500]}},"x2":{"datum":6590},"y":{"datum":-38.64,"type":"quantitative","scale":{"domain":[8.8,-33.6]}}}},
{"mark":{"type":"rule","color":"black","strokeWidth":2.5},"encoding":{"x":{"datum":6590,"type":"quantitative","scale":{"domain":[-200,1500]}},"y":{"datum":-38.64,"type":"quantitative","scale":{"domain":[8.8,-33.6]}},"y2":{"datum":34.6}}}
]
},
{
"data":{"name":"C"},
"title":{"text":"Catalan-dominant bilinguals","fontSize":25,"fontWeight":"normal","font":"Liberation Sans","anchor":"middle","dx":-14,"offset":13,"color":"black"},
"facet":{"field":"e","type":"nominal","sort":["F7","Fz","F8","T3","Cz","T4","T5","Pz","T6"],"header":{"title":null,"labelExpr":"''","labelFontSize":1,"labelPadding":0,"labelColor":"transparent"}},
"columns":3,
"spacing":{"row":0,"column":25},
"bounds":"flush",
"spec":{
"width":152,"height":100,
"layer":[
{"transform":[{"filter":"datum.t == -200"}],
"mark":{"type":"rule","color":"black","strokeWidth":2},
"encoding":{"x":{"datum":-200,"type":"quantitative","scale":{"domain":[-200,1500]},"axis":{"values":[0,500,1000,1500],"domain":false,"labels":false,"title":null,"grid":false,"tickSize":12,"tickWidth":2,"tickColor":"black","offset":-21}},"x2":{"datum":1500},"y":{"datum":0,"type":"quantitative","scale":{"domain":[1.2,-6.8]},"axis":null}}},
{"transform":[{"fold":["w","n"],"as":["c","v"]}],
"mark":{"type":"line","color":"black","strokeWidth":3,"strokeJoin":"round"},
"encoding":{"x":{"field":"t","type":"quantitative","scale":{"domain":[-200,1500]},"axis":{"values":[0,500,1000,1500],"domain":false,"labels":false,"title":null,"grid":false,"tickSize":12,"tickWidth":2,"tickColor":"black","offset":-21}},"y":{"field":"v","type":"quantitative","scale":{"domain":[1.2,-6.8]},"axis":null},
"strokeDash":{"field":"c","type":"nominal","scale":{"domain":["w","n"],"range":[[1,0],[3,3]]},"legend":{"title":null,"orient":"none","legendX":272,"legendY":377,"labelExpr":"datum.value == 'w' ? 'Control word, “cadira”' : 'Control nonword, “cadura”'","symbolType":"stroke","symbolSize":2500,"symbolStrokeWidth":3,"symbolStrokeColor":"black","labelFontSize":21,"labelFont":"Liberation Sans","labelColor":"black","labelOffset":16,"rowPadding":-22,"labelLimit":400}}}},
{"transform":[{"filter":"datum.t == -200"}],
"mark":{"type":"text","align":"left","baseline":"middle","fontSize":18,"dx":-6,"font":"Liberation Sans","color":"black"},
"encoding":{"x":{"datum":-200,"type":"quantitative","scale":{"domain":[-200,1500]}},"y":{"datum":-3.6,"type":"quantitative","scale":{"domain":[1.2,-6.8]}},"text":{"field":"e"}}}
]}
}
]
}
